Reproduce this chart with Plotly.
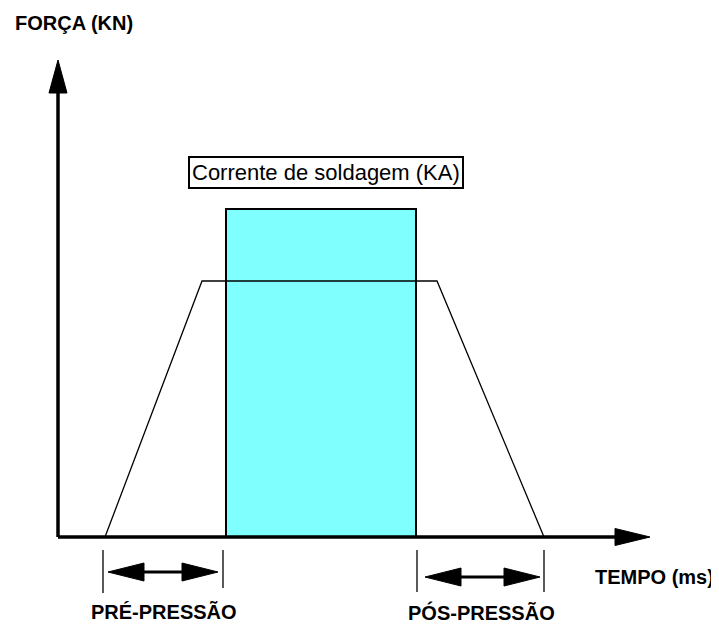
import plotly.graph_objects as go

# Data (time in abstract ms units from origin, force/current in abstract units)
force_time = [47, 144, 379, 486]
force_value = [0, 256, 256, 0]
current_start = 168
current_end = 358
current_value = 328
pre_press = [45, 165]
post_press = [359, 486]

W, H = 719, 624
PAGE_OFFSET = 8  # default body margin of the page
x0px, y0px = 58 - PAGE_OFFSET, 537 - PAGE_OFFSET
xr = [-x0px, W - x0px]
yr = [y0px - H, y0px]

fig = go.Figure()

# current rectangle
fig.add_trace(go.Scatter(
    x=[current_start, current_start, current_end, current_end, current_start],
    y=[0, current_value, current_value, 0, 0],
    fill='toself', fillcolor='#80FFFF', mode='lines',
    line=dict(color='black', width=2), hoverinfo='skip'))

# force trapezoid
fig.add_trace(go.Scatter(x=force_time, y=force_value, mode='lines',
                         line=dict(color='black', width=1.3), hoverinfo='skip'))

# axes
fig.add_trace(go.Scatter(x=[0, 0], y=[0, 450], mode='lines',
                         line=dict(color='black', width=3.5), hoverinfo='skip'))
fig.add_trace(go.Scatter(x=[0, 560], y=[0, 0], mode='lines',
                         line=dict(color='black', width=3.5), hoverinfo='skip'))
# arrow heads
fig.add_trace(go.Scatter(x=[-9, 0, 9, -9], y=[444, 477, 444, 444], fill='toself',
                         fillcolor='black', mode='lines', line=dict(color='black', width=1),
                         hoverinfo='skip'))
fig.add_trace(go.Scatter(x=[557, 592, 557, 557], y=[8.5, 0, -8.5, 8.5], fill='toself',
                         fillcolor='black', mode='lines', line=dict(color='black', width=1),
                         hoverinfo='skip'))

# ticks for intervals
for xv, ytop, ybot in [(pre_press[0], -13, -56), (pre_press[1], -13, -51),
                       (post_press[0], -13, -55), (post_press[1], -13, -55)]:
    fig.add_trace(go.Scatter(x=[xv, xv], y=[ytop, ybot], mode='lines',
                             line=dict(color='black', width=1.3), hoverinfo='skip'))

def double_arrow(xa, xb, yv):
    fig.add_trace(go.Scatter(x=[xa + 20, xb - 20], y=[yv, yv], mode='lines',
                             line=dict(color='black', width=3), hoverinfo='skip'))
    fig.add_trace(go.Scatter(x=[xa, xa + 36, xa + 36, xa], y=[yv, yv + 9, yv - 9, yv],
                             fill='toself', fillcolor='black', mode='lines',
                             line=dict(color='black', width=1), hoverinfo='skip'))
    fig.add_trace(go.Scatter(x=[xb, xb - 36, xb - 36, xb], y=[yv, yv + 9, yv - 9, yv],
                             fill='toself', fillcolor='black', mode='lines',
                             line=dict(color='black', width=1), hoverinfo='skip'))

double_arrow(pre_press[0] + 5, pre_press[1] - 5, -35)
double_arrow(post_press[0] + 8, post_press[1] - 4, -40)

bold = dict(family='Liberation Sans, Arial', size=20, color='black')
ann = [
    dict(x=-45, y=514, text='<b>FORÇA (KN)</b>', xanchor='left', yanchor='middle', font=bold),
    dict(x=535, y=-40, text='<b>TEMPO (ms)</b>', xanchor='left', yanchor='middle', font=bold),
    dict(x=106, y=-75, text='<b>PRÉ-PRESSÃO</b>', xanchor='center', yanchor='middle', font=bold),
    dict(x=423, y=-75, text='<b>PÓS-PRESSÃO</b>', xanchor='center', yanchor='middle', font=bold),
    dict(x=268, y=365, text='Corrente de soldagem (KA)', xanchor='center', yanchor='middle',
         font=dict(family='Liberation Sans, Arial', size=22, color='black'),
         bordercolor='black', borderwidth=2, borderpad=2, bgcolor='white'),
]
for a in ann:
    a['showarrow'] = False
    a['xref'] = 'x'
    a['yref'] = 'y'
fig.update_layout(
    width=W, height=H, margin=dict(l=0, r=0, t=0, b=0),
    paper_bgcolor='white', plot_bgcolor='white', showlegend=False,
    xaxis=dict(range=xr, visible=False, fixedrange=True),
    yaxis=dict(range=yr, visible=False, fixedrange=True),
    annotations=ann)
fig.write_html('out.html')
